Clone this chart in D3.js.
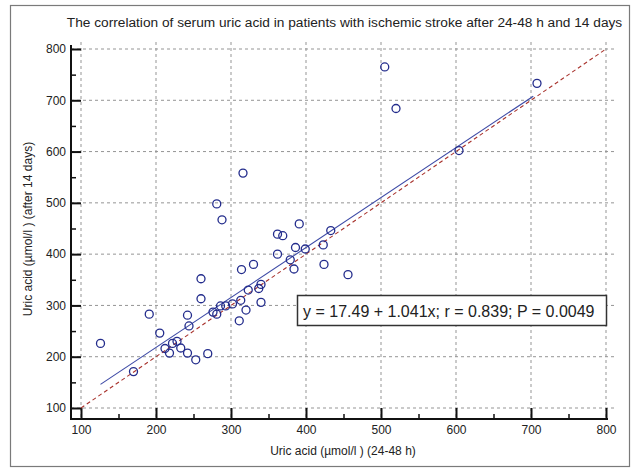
<!DOCTYPE html>
<html>
<head>
<meta charset="utf-8">
<script src="https://cdn.jsdelivr.net/npm/d3@7"></script>
<style>
  body { margin: 0; background: #fff; }
  svg text { font-family: "Liberation Sans", Arial, sans-serif; fill: #222; }
  .grid line { stroke: #959595; stroke-dasharray: 3,3; stroke-width: 1; }
  .axis .domain { display: none; }
  .axis line { stroke: #111; stroke-width: 2; }
  .axis.minor line { stroke-width: 1.5; }
</style>
</head>
<body>
<div id="grafica"></div>
<script>
// valores
const title = "The correlation of serum uric acid in patients with ischemic stroke after 24-48 h and 14 days";
const xLabel = "Uric acid (µmol/l ) (24-48 h)";
const yLabel = "Uric acid (µmol/l ) (after 14 days)";
const note = "y = 17.49 + 1.041x; r = 0.839; P = 0.0049";

const ticks = [100, 200, 300, 400, 500, 600, 700, 800];
const minorTicks = [150, 250, 350, 450, 550, 650, 750];

// acido urico a las 24-48 h (x) y a los 14 dias (y)
const acid48h = [126, 170, 191, 205, 212, 218, 222, 228, 233, 242, 244, 242, 253, 269,
  260, 260, 276, 281, 281, 288, 286, 293, 302, 311, 313, 314, 320, 323, 330, 337, 340,
  340, 316, 362, 369, 362, 379, 384, 386, 391, 399, 423, 424, 433, 456, 505, 520, 604, 708];
const acid14d = [226, 171, 283, 246, 216, 207, 226, 230, 217, 207, 260, 281, 194, 206,
  313, 352, 287, 283, 498, 467, 299, 299, 303, 270, 310, 370, 291, 330, 380, 333, 341,
  306, 558, 439, 436, 400, 389, 371, 413, 459, 410, 418, 380, 446, 360, 765, 684, 602, 733];

// recta de regresion (extremos leidos) y recta identidad
const fitX = [126, 703];
const fitY = [146, 708];
const identity = [100, 800];

const W = 635, H = 472;
const plot = { left: 81, right: 606, top: 49, bottom: 408 };
const axisGap = 10;

const svg = d3.select("#grafica").append("svg")
  .attr("width", W)
  .attr("height", H);

// marco exterior
svg.append("rect")
  .attr("x", 10.5).attr("y", 5.5)
  .attr("width", 619).attr("height", 461)
  .attr("fill", "none")
  .attr("stroke", "#7a7a7a")
  .attr("stroke-width", 1.2);

const x = d3.scaleLinear().domain([100, 800]).range([plot.left, plot.right]);
const y = d3.scaleLinear().domain([100, 800]).range([plot.bottom, plot.top]);

const xAxisY = plot.bottom + axisGap + 1;
const yAxisX = plot.left - axisGap;

// rejilla
const grid = svg.append("g").attr("class", "grid");
grid.selectAll(".v").data(ticks).enter().append("line")
  .attr("x1", d => x(d)).attr("x2", d => x(d))
  .attr("y1", plot.top - 7).attr("y2", xAxisY);
grid.selectAll(".h").data(ticks).enter().append("line")
  .attr("y1", d => y(d)).attr("y2", d => y(d))
  .attr("x1", yAxisX).attr("x2", plot.right + 8);

// titulo
svg.append("text")
  .attr("x", 344.5).attr("y", 27)
  .attr("text-anchor", "middle")
  .style("font-size", "13.7px")
  .text(title);

// ejes
svg.append("g")
  .attr("class", "axis minor")
  .attr("transform", `translate(0, ${xAxisY})`)
  .call(d3.axisBottom(x).tickValues(minorTicks).tickSize(-5).tickSizeOuter(0).tickFormat(""));
svg.append("g")
  .attr("class", "axis")
  .attr("transform", `translate(0, ${xAxisY})`)
  .call(d3.axisBottom(x).tickValues(ticks).tickSize(-axisGap - 1).tickSizeOuter(0).tickPadding(6))
  .selectAll("text").style("font-size", "12px");

svg.append("g")
  .attr("class", "axis minor")
  .attr("transform", `translate(${yAxisX}, 0)`)
  .call(d3.axisLeft(y).tickValues(minorTicks).tickSize(-5).tickSizeOuter(0).tickFormat(""));
svg.append("g")
  .attr("class", "axis")
  .attr("transform", `translate(${yAxisX}, 0)`)
  .call(d3.axisLeft(y).tickValues(ticks).tickSize(-axisGap).tickSizeOuter(0).tickPadding(5))
  .selectAll("text").style("font-size", "12px");

// lineas de los ejes
svg.append("line")
  .attr("x1", yAxisX - 1).attr("x2", plot.right + 2)
  .attr("y1", xAxisY).attr("y2", xAxisY)
  .attr("stroke", "#111").attr("stroke-width", 2);
svg.append("line")
  .attr("x1", yAxisX).attr("x2", yAxisX)
  .attr("y1", plot.top - 4).attr("y2", xAxisY)
  .attr("stroke", "#111").attr("stroke-width", 2);

// etiquetas de los ejes
svg.append("text")
  .attr("x", 343).attr("y", 455)
  .attr("text-anchor", "middle")
  .style("font-size", "12px")
  .text(xLabel);
svg.append("text")
  .attr("transform", `translate(32, 229) rotate(-90)`)
  .attr("text-anchor", "middle")
  .style("font-size", "12px")
  .text(yLabel);

// recta identidad (discontinua)
svg.append("line")
  .attr("x1", x(identity[0])).attr("y1", y(identity[0]))
  .attr("x2", x(identity[1])).attr("y2", y(identity[1]))
  .attr("stroke", "#a8322c")
  .attr("stroke-width", 1.1)
  .attr("stroke-dasharray", "4,3");

// recta de regresion
const line = d3.line().x(d => x(d[0])).y(d => y(d[1]));
svg.append("path")
  .attr("d", line(d3.zip(fitX, fitY)))
  .attr("fill", "none")
  .attr("stroke", "#3d4aa6")
  .attr("stroke-width", 1.1);

// puntos
svg.append("g")
  .selectAll("circle")
  .data(d3.zip(acid48h, acid14d)).enter()
  .append("circle")
  .attr("cx", d => x(d[0]))
  .attr("cy", d => y(d[1]))
  .attr("r", 4)
  .attr("fill", "none")
  .attr("stroke", "#232c8c")
  .attr("stroke-width", 1.3);

// cuadro con la ecuacion
svg.append("rect")
  .attr("x", 297.5).attr("y", 295.5)
  .attr("width", 309).attr("height", 30)
  .attr("fill", "#fff")
  .attr("stroke", "#333")
  .attr("stroke-width", 1.5);
svg.append("text")
  .attr("x", 303).attr("y", 317)
  .style("font-size", "16px")
  .text(note);
</script>
</body>
</html>
